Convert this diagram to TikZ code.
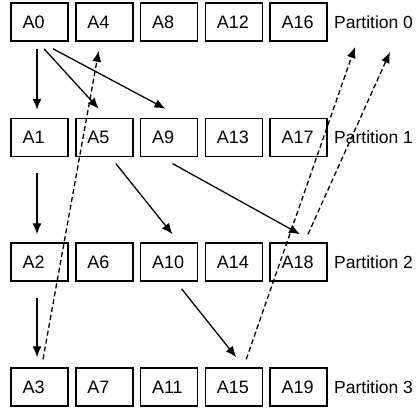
\documentclass[tikz,border=0pt]{standalone}
\usepackage{fontspec}
\setmainfont{Liberation Sans}
\usetikzlibrary{arrows.meta,calc}
\begin{document}
\begin{tikzpicture}[x=1pt,y=-1pt,
  cell/.style={draw,line width=1.5pt,minimum height=38pt,text width=34pt,align=left,inner xsep=11.5pt,inner ysep=0pt,font=\fontsize{18}{18}\selectfont},
  plabel/.style={anchor=west,inner sep=0pt,font=\fontsize{17.5}{17.5}\selectfont},
  arr/.style={line width=1.3pt,-{Latex[length=11pt,width=9pt]}},
  darr/.style={line width=1.3pt,dash pattern=on 5pt off 3pt,-{Latex[length=11pt,width=9pt]}}]
\useasboundingbox (0,0) rectangle (417,408);
\foreach \r/\y in {0/22,1/137.5,2/262,3/387}{
  \foreach \c in {0,...,4}{
    \pgfmathtruncatemacro{\n}{4*\c+\r}
    \node[cell] (A\n) at ({39.5+64.75*\c},\y) {A\n};
  }
  \node[plabel] (P\r) at (334,\y) {Partition \r};
}
\coordinate (T1) at (355,47);
\coordinate (T2) at (390,52);
% solid arrows
\draw[arr] ($(A0.south)+(-2.5,7)$) -- ($(A1.north)+(-2.5,-8)$);
\draw[arr] ($(A0.south)+(4.5,7)$) -- ($(A5.north)+(-5.5,-9)$);
\draw[arr] ($(A0.south)+(13.5,7)$) -- ($(A9.north)+(-3.5,-9)$);
\draw[arr] ($(A1.south)+(-2.5,16)$) -- ($(A2.north)+(-2.5,-8)$);
\draw[arr] ($(A2.south)+(-2.5,16)$) -- ($(A3.north)+(-2.5,-10)$);
\draw[arr] ($(A5.south)+(11.5,6.3)$) -- ($(A10.north)+(3.5,-8)$);
\draw[arr] ($(A9.south)+(3.5,6.3)$) -- ($(A18.north)+(1.5,-8)$);
\draw[arr] ($(A10.south)+(12.5,7)$) -- ($(A15.north)+(2.5,-10)$);
% dashed arrows
\draw[darr] ($(A3.north)+(3.5,-8)$) -- ($(A4.south)+(-5.5,9)$);
\draw[darr] ($(A15.north)+(12.5,-8)$) -- (T1);
\draw[darr] ($(A18.north)+(9.5,-8)$) -- (T2);
\end{tikzpicture}
\end{document}
